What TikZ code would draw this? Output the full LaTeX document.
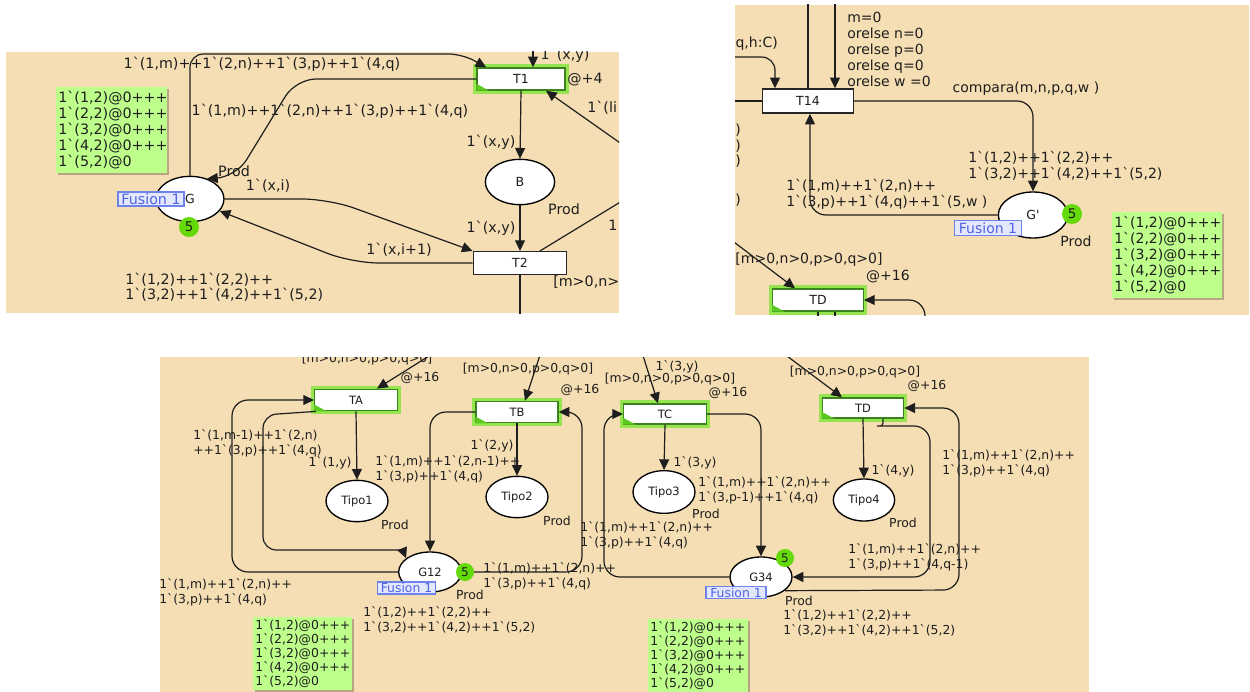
\documentclass[tikz,border=0pt]{standalone}
\usepackage{fontspec}
\newfontfamily\cpn{DejaVu Sans}[Ligatures=TeXOff]
\usetikzlibrary{shapes.geometric,arrows.meta,calc,shadows}
\definecolor{sheet}{RGB}{245,222,179}
\definecolor{mark}{RGB}{190,255,140}
\definecolor{tok}{RGB}{100,218,10}
\definecolor{glow}{RGB}{150,228,80}
\definecolor{tdark}{RGB}{60,130,30}
\definecolor{trig}{RGB}{90,200,30}
\definecolor{fusb}{RGB}{110,130,235}
\definecolor{fusf}{RGB}{228,232,255}
\definecolor{fust}{RGB}{80,100,225}
\definecolor{ink}{RGB}{30,30,30}
\newcommand\insA{\cpn\fontsize{10.7}{11.5}\selectfont}
\newcommand\insB{\cpn\fontsize{10.5}{12}\selectfont}
\newcommand\insC{\cpn\fontsize{9.3}{11.25}\selectfont}
\newcommand\mkA{\cpn\fontsize{10.7}{12}\selectfont}
\newcommand\mkB{\cpn\fontsize{10.5}{12}\selectfont}
\newcommand\mkC{\cpn\fontsize{9.3}{10.6}\selectfont}
\newcommand\nmA{\cpn\fontsize{9.4}{10}\selectfont}
\newcommand\nmC{\cpn\fontsize{8.6}{10}\selectfont}
\newcommand\tkA{\cpn\fontsize{10}{10}\selectfont}
\newcommand\tkC{\cpn\fontsize{9}{10}\selectfont}
\newcommand\gtri[1]{\fill[trig] (#1.south west) -- ++(13,0) -- ++(-13,-7) -- cycle;}
\tikzset{
  ln/.style={draw=ink, line width=0.9pt},
  arc/.style={ln, -{Triangle[length=8pt,width=7.5pt]}},
  place/.style={ellipse, draw=black, line width=1pt, fill=white, inner sep=0pt, text=ink},
  trans/.style={rectangle, draw=black!85, line width=1.1pt, fill=white, inner sep=0pt, text=ink},
  ttrans/.style={trans, draw=tdark, preaction={draw=glow, line width=5.5pt}},
  tokA/.style={circle, fill=tok, inner sep=0pt, minimum size=15pt, text=ink, font=\tkA},
  tokC/.style={circle, fill=tok, inner sep=0pt, minimum size=13.5pt, text=ink, font=\tkC},
  fus/.style={draw=fusb, fill=fusf, line width=0.8pt, inner sep=0pt, text=fust},
  mbox/.style={fill=mark, inner sep=1.5pt, align=left, text=ink,
    drop shadow={shadow xshift=1.5pt, shadow yshift=-1.5pt, fill=black, opacity=0.25}},
  insA/.style={font=\insA, inner sep=0pt, align=left, text=ink},
  insB/.style={font=\insB, inner sep=0pt, align=left, text=ink},
  insC/.style={font=\insC, inner sep=0pt, align=left, text=ink},
}
\begin{document}
\begin{tikzpicture}[x=0.75pt,y=-0.75pt]
\useasboundingbox (0,0) rectangle (1250,692);
\fill[white] (0,0) rectangle (1250,692);

% ================= Panel 1 =================
\begin{scope}
\clip (6,52) rectangle (619,313);
\fill[sheet] (6,52) rectangle (619,313);
\node[place, minimum width=51pt, minimum height=34pt, font=\nmA] (G) at (190,199) {G};
\node[place, minimum width=52pt, minimum height=34pt, font=\nmA] (B) at (520,182) {B};
\node[ttrans, minimum width=66pt, minimum height=16.5pt, font=\nmA] (T1) at (521,79) {T1};
\node[trans, minimum width=70pt, minimum height=17pt, font=\nmA] (T2) at (520,263) {T2};
\gtri{T1}

\draw[arc, rounded corners=10pt] (G.north) |- (462,54) -- ($(T1.north west)+(10,0)$);
\draw[arc, rounded corners=15pt] (T1.west) -- (296,79) -- (236,177) -- (G.50);
\draw[arc, rounded corners=20pt] (G.east) -- (329,199) -- (T2.north west);
\draw[arc, rounded corners=20pt] (T2.west) -- (352,263) -- (G.-22);
\draw[arc] (T1.south) -- (B.north);
\draw[arc] (B.south) -- (T2.north);
\draw[ln] (T2.south) -- (520,330);
\draw[ln] ($(T2.north)+(20,0)$) -- (650,184);
\draw[arc] (650,164) -- ($(T1.south)+(25,0)$);
\draw[arc] (533,40) -- ($(T1.north)+(12,0)$);

\node[insA] (a1) at (262,64) {1`(1,m)++1`(2,n)++1`(3,p)++1`(4,q)};
\node[insA] (a2) at (330,111) {1`(1,m)++1`(2,n)++1`(3,p)++1`(4,q)};
\node[insA] (a3) at (234,171) {Prod};
\node[insA] (a4) at (268,186) {1`(x,i)};
\node[insA] (a5) at (399,250) {1`(x,i+1)};
\node[insA] (a6) at (491,142) {1`(x,y)};
\node[insA] (a7) at (491,228) {1`(x,y)};
\node[insA] (a8) at (564,209) {Prod};
\node[insA] (a9) at (585,80) {@+4};
\node[insA] (a10) at (565,55) {1`(x,y)};
\node[insA, anchor=west] (a11) at (587,108) {1`(li};
\node[insA, anchor=west] (a12) at (608,225) {1};
\node[insA, anchor=west] (a13) at (553,283) {[m>0,n>0,p>0,q>0]};
\node[insA, anchor=west] (a14) at (125,287) {1`(1,2)++1`(2,2)++\\1`(3,2)++1`(4,2)++1`(5,2)};
\node[mbox, font=\mkA, text width=80pt, minimum height=64pt, anchor=north west] (mA) at (56,87)
  {1`(1,2)@0+++\\1`(2,2)@0+++\\1`(3,2)@0+++\\1`(4,2)@0+++\\1`(5,2)@0};
\node[fus, font=\insA, minimum width=49.5pt, minimum height=10.5pt] (fA) at (151,199) {Fusion 1};
\node[tokA] (kA) at (189,227) {5};
\end{scope}

% ================= Panel 2 =================
\begin{scope}
\clip (735,5) rectangle (1249,315);
\fill[sheet] (735,5) rectangle (1249,315);
\node[trans, minimum width=68pt, minimum height=18pt, font=\nmA] (T14) at (808,101) {T14};
\node[place, minimum width=52pt, minimum height=34.5pt, font=\nmA] (Gp) at (1033,215) {G'};
\node[ttrans, minimum width=68pt, minimum height=16.5pt, font=\nmA] (TDa) at (818,300) {TD};
\gtri{TDa}

\draw[ln] (808,0) -- (T14.north);
\draw[arc] (835,0) -- ($(T14.north)+(27,0)$);
\draw[arc, rounded corners=10pt] (720,57) -| ($(T14.north)+(-33,0)$);
\draw[ln] (720,101) -- (T14.west);
\draw[arc, rounded corners=12pt] (T14.east) -| (Gp.north);
\draw[arc, rounded corners=12pt] (Gp.west) -| ($(T14.south)+(2,0)$);
\draw[arc] (720,231.5) -- ($(TDa.north)+(-23,0)$);
\draw[arc, rounded corners=12pt] (925,330) |- (TDa.east);
\draw[ln] (TDa.south) -- (818,330);
\draw[ln] ($(TDa.south)+(17,0)$) -- (835,330);

\node[insB, anchor=east] (b1) at (778,44) {q,h:C)};
\node[insB, anchor=west] (b2) at (847,49) {m=0\\orelse n=0\\orelse p=0\\orelse q=0\\orelse w =0};
\node[insB] (b3) at (1026,89) {compara(m,n,p,q,w )};
\node[insB, anchor=west] (b4) at (968,166) {1`(1,2)++1`(2,2)++\\1`(3,2)++1`(4,2)++1`(5,2)};
\node[insB, anchor=west] (b5) at (786,194) {1`(1,m)++1`(2,n)++\\1`(3,p)++1`(4,q)++1`(5,w )};
\node[insB, anchor=east] (b6) at (741,130) {)};
\node[insB, anchor=east] (b7) at (741,146) {)};
\node[insB, anchor=east] (b8) at (741,161) {)};
\node[insB, anchor=east] (b9) at (741,200) {)};
\node[insB] (b10) at (809,260) {[m>0,n>0,p>0,q>0]};
\node[insB] (b11) at (888,277) {@+16};
\node[insB] (b12) at (1076,241) {Prod};
\node[mbox, font=\mkB, text width=79.5pt, minimum height=64pt, anchor=north west] (mB) at (1112,212)
  {1`(1,2)@0+++\\1`(2,2)@0+++\\1`(3,2)@0+++\\1`(4,2)@0+++\\1`(5,2)@0};
\node[fus, font=\insB, minimum width=50pt, minimum height=11pt] (fB) at (988,228) {Fusion 1};
\node[tokA] (kB) at (1072,214) {5};
\end{scope}

% ================= Panel 3 =================
\begin{scope}
\clip (160,357) rectangle (1089,692);
\fill[sheet] (160,357) rectangle (1089,692);
\node[ttrans, minimum width=62pt, minimum height=16pt, font=\nmC] (TA) at (356,400) {TA};
\node[ttrans, minimum width=61.5pt, minimum height=16pt, font=\nmC] (TB) at (517,412) {TB};
\node[ttrans, minimum width=62pt, minimum height=15pt, font=\nmC] (TC) at (665,414) {TC};
\node[ttrans, minimum width=61pt, minimum height=15pt, font=\nmC] (TD) at (863,408) {TD};
\gtri{TA}\gtri{TB}\gtri{TC}\gtri{TD}
\node[place, minimum width=46.5pt, minimum height=31pt, font=\nmC] (P1) at (357,501) {Tipo1};
\node[place, minimum width=46.5pt, minimum height=31pt, font=\nmC] (P2) at (517,497) {Tipo2};
\node[place, minimum width=46.5pt, minimum height=32pt, font=\nmC] (P3) at (664,492) {Tipo3};
\node[place, minimum width=46pt, minimum height=31.5pt, font=\nmC] (P4) at (864,500) {Tipo4};
\node[place, minimum width=47pt, minimum height=30pt, font=\nmC] (G12) at (430,572) {G12};
\node[place, minimum width=46.5pt, minimum height=30pt, font=\nmC] (G34) at (761,577) {G34};

\draw[arc] (445,346) -- ($(TA.north)+(21,0)$);
\draw[arc] (TA.south) -- (P1.north);
\draw[arc, rounded corners=12pt] (G12.west) -| (232,400) -- (TA.west);
\draw[arc, rounded corners=10pt] ($(TA.south west)+(2,0)$) -- (263,415) -- (263,550) -- (392,550) .. controls (400,550) and (404,553) .. (G12.150);
\draw[arc] (543,346) -- ($(TB.north)+(8,0)$);
\draw[arc] (TB.south) -- (P2.north);
\draw[arc, rounded corners=12pt] (TB.west) -| (G12.north);
\draw[arc, rounded corners=12pt] (G12.east) -| (582,412) -- (TB.east);
\draw[arc] (640,346) -- ($(TC.north)+(-7,0)$);
\draw[arc] (TC.south) -- (P3.north);
\draw[arc, rounded corners=12pt] (TC.east) -| (G34.north);
\draw[arc, rounded corners=12pt] (G34.west) -| (604,414) -- (TC.west);
\draw[arc] (775,347) -- ($(TD.north)+(-21,0)$);
\draw[arc] (TD.south) -- (P4.north);
\draw[arc, rounded corners=12pt] ($(TD.south)+(20,0)$) .. controls (883,426) .. (893,426) -- (930,426) -- (930,577) -- (G34.east);
\draw[arc, rounded corners=12pt] (G34.-30) -- (959,590) |- (TD.east);

\node[insC] (c1) at (367,359) {[m>0,n>0,p>0,q>0]};
\node[insC] (c2) at (420,378) {@+16};
\node[insC] (c3) at (330,463) {1`(1,y)};
\node[insC] (c4) at (395,525) {Prod};
\node[insC, anchor=west] (c5) at (193,443) {1`(1,m-1)++1`(2,n)\\++1`(3,p)++1`(4,q)};
\node[insC, anchor=west] (c6) at (159,592) {1`(1,m)++1`(2,n)++\\1`(3,p)++1`(4,q)};
\node[insC] (c7) at (528,369) {[m>0,n>0,p>0,q>0]};
\node[insC] (c8) at (580,390) {@+16};
\node[insC] (c9) at (492,446) {1`(2,y)};
\node[insC, anchor=west] (c10) at (375,469) {1`(1,m)++1`(2,n-1)++\\1`(3,p)++1`(4,q)};
\node[insC] (c11) at (557,521) {Prod};
\node[insC] (c12) at (470,595) {Prod};
\node[insC, anchor=west] (c13) at (483,576) {1`(1,m)++1`(2,n)++\\1`(3,p)++1`(4,q)};
\node[insC, anchor=west] (c14) at (363,620) {1`(1,2)++1`(2,2)++\\1`(3,2)++1`(4,2)++1`(5,2)};
\node[insC, anchor=west] (c15) at (580,535) {1`(1,m)++1`(2,n)++\\1`(3,p)++1`(4,q)};
\node[insC] (c16) at (670,379) {[m>0,n>0,p>0,q>0]};
\node[insC] (c17) at (677,367) {1`(3,y)};
\node[insC] (c18) at (728,393) {@+16};
\node[insC] (c19) at (695,463) {1`(3,y)};
\node[insC] (c20) at (706,514) {Prod};
\node[insC, anchor=west] (c21) at (698,490) {1`(1,m)++1`(2,n)++\\1`(3,p-1)++1`(4,q)};
\node[insC] (c22) at (799,601) {Prod};
\node[insC, anchor=west] (c23) at (783,623) {1`(1,2)++1`(2,2)++\\1`(3,2)++1`(4,2)++1`(5,2)};
\node[insC] (c24) at (855,372) {[m>0,n>0,p>0,q>0]};
\node[insC] (c25) at (927,386) {@+16};
\node[insC] (c26) at (893,471) {1`(4,y)};
\node[insC] (c27) at (903,523) {Prod};
\node[insC, anchor=west] (c28) at (848,557) {1`(1,m)++1`(2,n)++\\1`(3,p)++1`(4,q-1)};
\node[insC, anchor=west] (c29) at (942,463) {1`(1,m)++1`(2,n)++\\1`(3,p)++1`(4,q)};
\node[mbox, font=\mkC, text width=71pt, anchor=north west] (mC) at (253,617)
  {1`(1,2)@0+++\\1`(2,2)@0+++\\1`(3,2)@0+++\\1`(4,2)@0+++\\1`(5,2)@0};
\node[mbox, font=\mkC, text width=72pt, anchor=north west] (mD) at (648,619)
  {1`(1,2)@0+++\\1`(2,2)@0+++\\1`(3,2)@0+++\\1`(4,2)@0+++\\1`(5,2)@0};
\node[fus, font=\insC, minimum width=44pt, minimum height=9pt] (fC) at (406.5,588) {Fusion 1};
\node[fus, font=\insC, minimum width=45pt, minimum height=8.5pt] (fD) at (736,592.5) {Fusion 1};
\node[tokC] (kC) at (465,572) {5};
\node[tokC] (kD) at (785,558) {5};
\end{scope}
\end{tikzpicture}
\end{document}
